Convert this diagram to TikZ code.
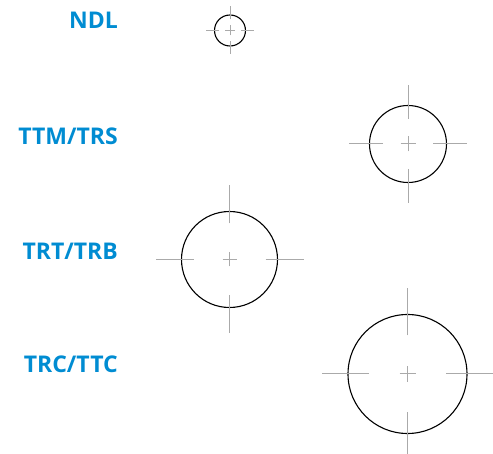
\documentclass[tikz,border=0pt]{standalone}
\usepackage{fontspec}
\setmainfont{Open Sans}
\definecolor{lblblue}{RGB}{0,140,210}
\definecolor{tickgray}{RGB}{170,170,170}
\tikzset{
  lbl/.style={anchor=east, text=lblblue, font=\fontsize{23}{23}\selectfont\bfseries, inner sep=0pt},
  ring/.style={circle, draw=black, line width=1.1pt, inner sep=0pt},
  tickline/.style={draw=tickgray, line width=1pt},
}
\newcommand\mygauge[6]{%
  % #1 name, #2 x, #3 y, #4 radius, #5 tick inner, #6 tick outer
  \node[ring, minimum size=2*#4 pt] (#1) at (#2,#3) {};
  \foreach \ang in {0,90,180,270}{
    \draw[tickline] (#1.center) ++(\ang:#5pt) -- ++(\ang:#6pt-#5pt);
  }
}
\begin{document}
\begin{tikzpicture}[x=1pt,y=-1pt]
\useasboundingbox (0,0) rectangle (493,454);
\node[lbl] (l1) at (118,20) {NDL};
\node[lbl] (l2) at (118,136) {TTM/TRS};
\node[lbl] (l3) at (118,251) {TRT/TRB};
\node[lbl] (l4) at (118,364.5) {TRC/TTC};
\mygauge{g1}{230}{30.5}{15.5}{11}{24}
\mygauge{g2}{408}{144}{38.5}{25}{59}
\mygauge{g3}{229.5}{259.5}{48}{36}{74}
\mygauge{g4}{407.5}{374}{59.5}{38.5}{85.5}
\foreach \g/\c in {g1/5,g2/7.5,g3/7,g4/8}{
  \draw[tickline] ([xshift=-\c pt]\g.center) -- ([xshift=\c pt]\g.center);
  \draw[tickline] ([yshift=-\c pt]\g.center) -- ([yshift=\c pt]\g.center);
}
\end{tikzpicture}
\end{document}
